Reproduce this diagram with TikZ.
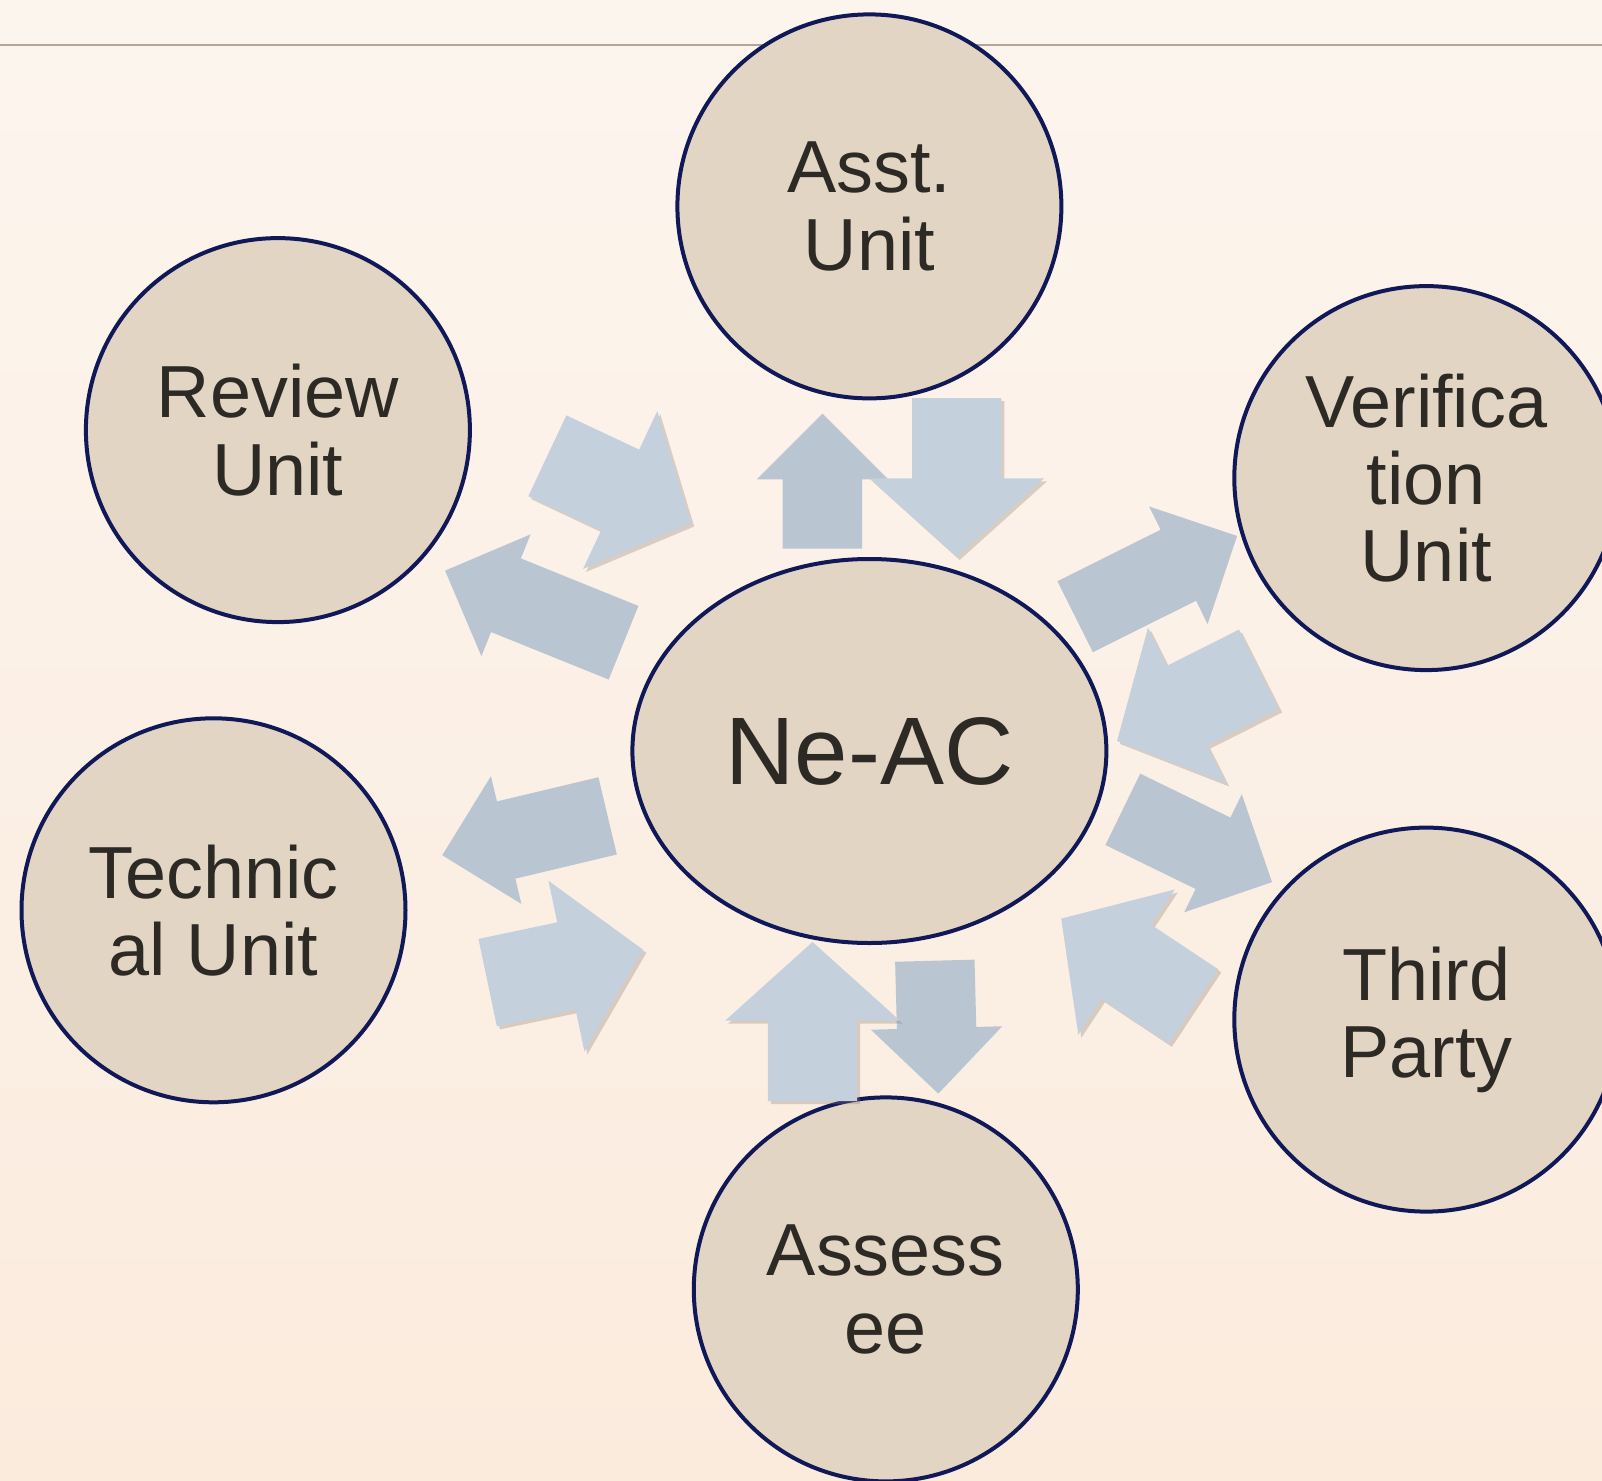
\documentclass[tikz,border=0pt]{standalone}
\usepackage{fontspec}
\setsansfont{Liberation Sans}
\usetikzlibrary{shapes,arrows,positioning,shadows}

\definecolor{bgtop}{HTML}{FCF5EE}
\definecolor{bgbottom}{HTML}{FBEBDD}
\definecolor{rulegray}{HTML}{B3A598}
\definecolor{unitfill}{HTML}{E2D5C4}
\definecolor{unitline}{HTML}{101858}
\definecolor{labeltext}{HTML}{2D2A25}
\definecolor{arrowlight}{HTML}{C5D0DD}
\definecolor{arrowdark}{HTML}{BAC5D2}
\definecolor{shadowbrown}{HTML}{8A7A68}

\begin{document}
\begin{tikzpicture}[
    unit/.style={circle, draw=unitline, line width=0.04cm, fill=unitfill, minimum size=3.84cm, inner sep=0pt, align=center, text=labeltext, font=\sffamily\fontsize{21}{22}\selectfont},
    hub/.style={ellipse, draw=unitline, line width=0.04cm, fill=unitfill, minimum width=4.74cm, minimum height=3.84cm, inner sep=0pt, text=labeltext, font=\sffamily\fontsize{27.3}{30}\selectfont},
    toarrow/.style={single arrow, fill=arrowlight, inner xsep=0pt, inner ysep=0.44cm, single arrow head extend=0.425cm, single arrow tip angle=96, minimum height=1.59cm, anchor=tail, rotate=#1,
        drop shadow={shadow xshift=0.03cm, shadow yshift=-0.03cm, opacity=0.3, fill=shadowbrown}},
    fromarrow/.style={single arrow, fill=arrowdark, inner xsep=0pt, inner ysep=0.39cm, single arrow head extend=0.26cm, single arrow tip angle=90, anchor=tail}
]
    \useasboundingbox (0,0) rectangle (16.02,-14.81);
    \clip (0,0) rectangle (16.02,-14.81);
    \shade[top color=bgtop, bottom color=bgbottom] (0,0) rectangle (16.02,-14.81);

    % title rule
    \coordinate (ruleL) at (0,-0.45);
    \coordinate (ruleR) at (16.02,-0.45);
    \draw[rulegray, line width=0.027cm] (ruleL) -- (ruleR);

    % units
    \node[hub] (neac) at (8.694,-7.510) {Ne-AC};
    \node[unit] (asst) at (8.694,-2.064) {Asst.\\Unit};
    \node[unit] (review) at (2.779,-4.301) {Review\\Unit};
    \node[unit] (verif) at (14.263,-4.781) {Verifica\\tion\\Unit};
    \node[unit] (tech) at (2.135,-9.103) {Technic\\al Unit};
    \node[unit] (third) at (14.263,-10.196) {Third\\Party};
    \node[unit] (assessee) at (8.858,-12.894) {Assess\\ee};

    % arrows out of Ne-AC
    \node[fromarrow, rotate=90, minimum height=1.35cm] (asstout) at (8.224,-5.493) {};
    \node[fromarrow, rotate=158, minimum height=1.925cm] (reviewout) at (6.242,-6.430) {};
    \node[fromarrow, rotate=26.5, minimum height=1.81cm] (verifout) at (10.745,-6.170) {};
    \node[fromarrow, rotate=193.4, minimum height=1.70cm] (techout) at (6.083,-8.157) {};
    \node[fromarrow, rotate=-26, minimum height=1.66cm] (thirdout) at (11.222,-8.090) {};
    \node[fromarrow, rotate=-88.5, minimum height=1.33cm] (assesseeout) at (9.348,-9.600) {};

    % arrows into Ne-AC
    \node[toarrow=-90] (asstin) at (9.567,-3.973) {};
    \node[toarrow=-25.2] (reviewin) at (5.467,-4.555) {};
    \node[toarrow=206.7] (verifin) at (12.597,-6.692) {};
    \node[toarrow=11.9] (techin) at (4.870,-9.828) {};
    \node[toarrow=146.4] (thirdin) at (11.942,-10.070) {};
    \node[toarrow=90] (assesseein) at (8.125,-11.017) {};
\end{tikzpicture}
\end{document}
